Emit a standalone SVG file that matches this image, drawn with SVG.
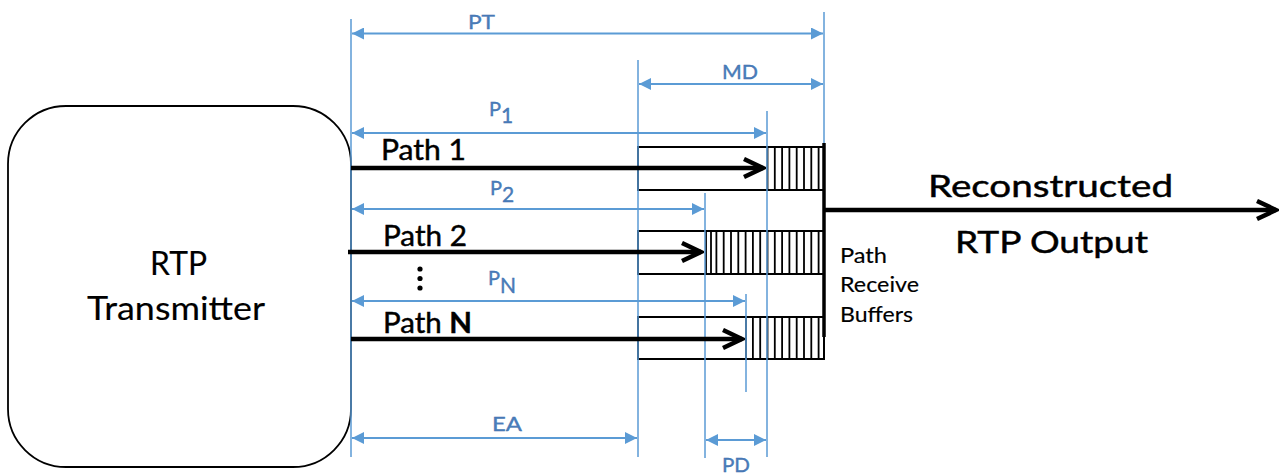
<svg xmlns="http://www.w3.org/2000/svg" width="1281" height="474" viewBox="0 0 1281 474">
<defs>
<style>
.dim{stroke:#5B9BD5;stroke-width:2;fill:none}
.ext{stroke:#5B9BD5;stroke-width:1.5;fill:none}
.dl{font-family:Lato,"Liberation Sans",sans-serif;fill:#4A7EBB;stroke:#3E6EAD;stroke-width:0.35;font-size:20px}
.blk{stroke:#000;stroke-width:4.5;fill:none}
.buf{stroke:#000;stroke-width:2;fill:#fff}
.hatch{stroke:#000;stroke-width:1.8;fill:none}
.lbl{font-family:Lato,"Liberation Sans",sans-serif;fill:#000;stroke:#000;stroke-width:0.45}
.lt{stroke-width:0.15}
</style>
<marker id="ba" viewBox="0 0 12 12" markerWidth="12" markerHeight="12" refX="12" refY="6" orient="auto-start-reverse" markerUnits="userSpaceOnUse">
<path d="M0,0 L12,6 L0,12 z" fill="#5B9BD5"/>
</marker>
<marker id="ka" viewBox="-2 -2 24 24" markerWidth="24" markerHeight="24" refX="19" refY="9" orient="auto" markerUnits="userSpaceOnUse">
<path d="M0,0 L19,9 L0,18" fill="none" stroke="#000" stroke-width="4.5" stroke-linejoin="miter"/>
</marker>
</defs>
<rect width="1281" height="474" fill="#fff"/>

<g id="transmitter">
<rect x="8" y="106" width="343" height="361" rx="58" ry="58" fill="#fff" stroke="#000" stroke-width="1.8"/>
<text class="lbl lt" x="150" y="275" font-size="32" textLength="57" lengthAdjust="spacingAndGlyphs">RTP</text>
<text class="lbl lt" x="87" y="320" font-size="32" textLength="178" lengthAdjust="spacingAndGlyphs">Transmitter</text>
</g>

<g id="buffer1">
<rect class="buf" x="638" y="147" width="186" height="43"/>
<path class="hatch" d="M767.5,147V190M774.8,147V190M782.1,147V190M789.4,147V190M796.7,147V190M804,147V190M811.3,147V190M818.6,147V190"/>
</g>
<g id="buffer2">
<rect class="buf" x="638" y="231" width="186" height="43"/>
<path class="hatch" d="M706,231V274M711,231V274M716.4,231V274M723.7,231V274M731,231V274M738.3,231V274M745.6,231V274M752.9,231V274M760.2,231V274M767.5,231V274M774.8,231V274M782.1,231V274M789.4,231V274M796.7,231V274M804,231V274M811.3,231V274M818.6,231V274"/>
</g>
<g id="bufferN">
<rect class="buf" x="638" y="317" width="186" height="42"/>
<path class="hatch" d="M746,317V359M752.9,317V359M760.2,317V359M767.5,317V359M774.8,317V359M782.1,317V359M789.4,317V359M796.7,317V359M804,317V359M811.3,317V359M818.6,317V359"/>
</g>

<g id="connectors">
<path class="ext" d="M351,19V457M824,12V145M638,60V457M767,111V457M705,193V458M746,294V392"/>
<path class="dim" d="M352,33.5H823" marker-start="url(#ba)" marker-end="url(#ba)"/>
<path class="dim" d="M639,84H823" marker-start="url(#ba)" marker-end="url(#ba)"/>
<path class="dim" d="M352,133H766" marker-start="url(#ba)" marker-end="url(#ba)"/>
<path class="dim" d="M352,209H704" marker-start="url(#ba)" marker-end="url(#ba)"/>
<path class="dim" d="M352,301H745" marker-start="url(#ba)" marker-end="url(#ba)"/>
<path class="dim" d="M352,438H637" marker-start="url(#ba)" marker-end="url(#ba)"/>
<path class="dim" d="M706,440H766" marker-start="url(#ba)" marker-end="url(#ba)"/>
<path class="blk" d="M351,168H763" marker-end="url(#ka)"/>
<path class="blk" d="M348,252H701" marker-end="url(#ka)"/>
<path class="blk" d="M351,339H742" marker-end="url(#ka)"/>
<path d="M824,143V337" stroke="#000" stroke-width="3.5" fill="none"/>
<path class="blk" d="M824,210H1276" marker-end="url(#ka)"/>
</g>

<g id="labels">
<text class="dl" x="468" y="29" font-size="19" textLength="27" lengthAdjust="spacingAndGlyphs">PT</text>
<text class="dl" x="722" y="79" font-size="19.5" textLength="36" lengthAdjust="spacingAndGlyphs">MD</text>
<text class="dl" x="489" y="116" font-size="22.5">P<tspan font-size="21" dy="7">1</tspan></text>
<text class="dl" x="490" y="195" font-size="22.5">P<tspan font-size="21" dy="7">2</tspan></text>
<text class="dl" x="488" y="285" font-size="22.5">P<tspan font-size="21" dy="8">N</tspan></text>
<text class="dl" x="492" y="431" font-size="24.5" textLength="30" lengthAdjust="spacingAndGlyphs">EA</text>
<text class="dl" x="722" y="472" font-size="22" textLength="28" lengthAdjust="spacingAndGlyphs">PD</text>

<text class="lbl" x="381" y="160" font-size="28" textLength="85" lengthAdjust="spacingAndGlyphs">Path 1</text>
<text class="lbl" x="383" y="246" font-size="28" textLength="84" lengthAdjust="spacingAndGlyphs">Path 2</text>
<text class="lbl" x="383" y="333" font-size="28" textLength="89" lengthAdjust="spacingAndGlyphs">Path <tspan font-weight="bold">N</tspan></text>
<circle cx="420" cy="269" r="2.6"/>
<circle cx="420" cy="278.5" r="2.6"/>
<circle cx="420" cy="288" r="2.6"/>

<text class="lbl lt" x="840" y="263" font-size="21" textLength="47" lengthAdjust="spacingAndGlyphs">Path</text>
<text class="lbl lt" x="840" y="292" font-size="21" textLength="79" lengthAdjust="spacingAndGlyphs">Receive</text>
<text class="lbl lt" x="840" y="322" font-size="21" textLength="73" lengthAdjust="spacingAndGlyphs">Buffers</text>

<text class="lbl" x="928" y="197" font-size="30" textLength="245" lengthAdjust="spacingAndGlyphs">Reconstructed</text>
<text class="lbl" x="955" y="253" font-size="30" textLength="193" lengthAdjust="spacingAndGlyphs">RTP Output</text>
</g>
</svg>
